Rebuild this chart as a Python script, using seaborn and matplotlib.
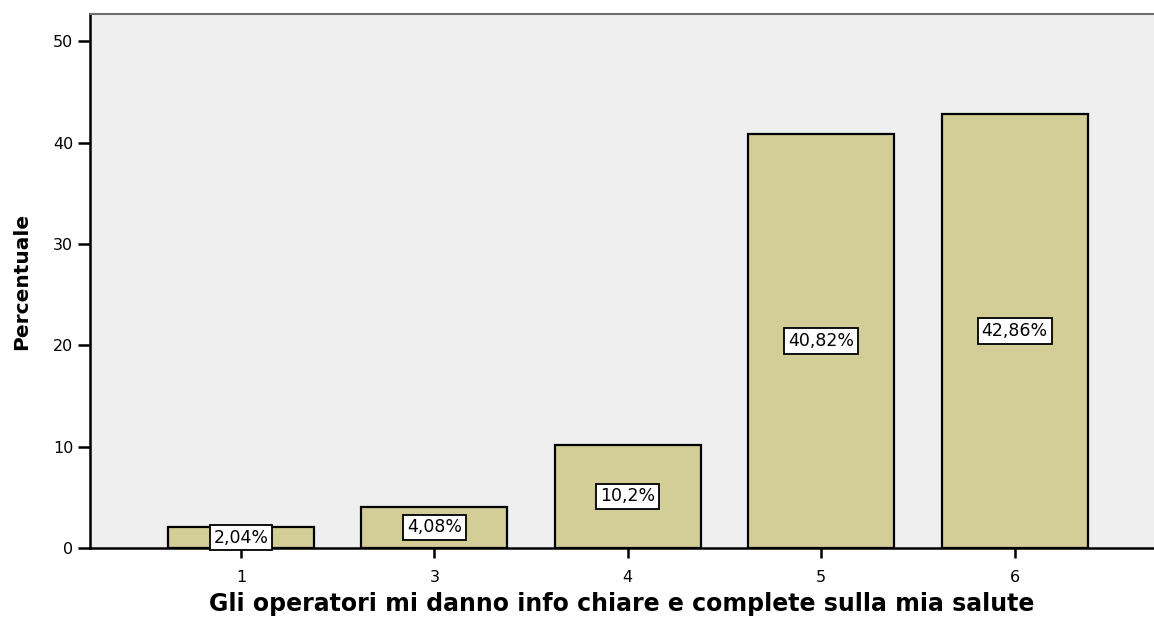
import pandas as pd
import seaborn as sns
import matplotlib.pyplot as plt

categories = ['1', '3', '4', '5', '6']
percentages = [2.04, 4.08, 10.2, 40.82, 42.86]
value_labels = ['2,04%', '4,08%', '10,2%', '40,82%', '42,86%']

data = pd.DataFrame({'Risposta': categories, 'Percentuale': percentages})

sns.set_style('white')
plt.rcParams['font.family'] = ['DejaVu Sans']
plt.rcParams['text.color'] = 'black'
plt.rcParams['axes.labelcolor'] = 'black'
plt.rcParams['xtick.color'] = 'black'
plt.rcParams['ytick.color'] = 'black'

fig = plt.figure(figsize=(11.54, 6.19), dpi=100)
ax = fig.add_axes([0.078, 0.1147, 0.922, 0.8626])
ax.set_facecolor('#efefef')

sns.barplot(x='Risposta', y='Percentuale', data=data, color='#d3ce98',
            width=0.755, edgecolor='black', linewidth=1.6, saturation=1, ax=ax)

# labels in white boxes at mid-height of each bar
for i, (val, lab) in enumerate(zip(percentages, value_labels)):
    ax.text(i, val / 2, lab, ha='center', va='center', fontsize=12.5,
            zorder=5, clip_on=False,
            bbox=dict(boxstyle='square,pad=0.22', facecolor='white',
                      edgecolor='black', linewidth=1.3))

ax.set_ylim(0, 52.7)
ax.set_xlim(-0.78, 4.72)
ax.set_yticks([0, 10, 20, 30, 40, 50])

ax.spines['left'].set_color('black')
ax.spines['left'].set_linewidth(1.8)
ax.spines['bottom'].set_color('black')
ax.spines['bottom'].set_linewidth(1.8)
ax.spines['top'].set_color('#6e6e6e')
ax.spines['top'].set_linewidth(1.5)
ax.spines['right'].set_visible(False)

ax.tick_params(axis='y', direction='out', length=8.5, width=1.8,
               labelsize=11.5, pad=3.5, left=True)
ax.tick_params(axis='x', direction='out', length=7, width=1.8,
               labelsize=11.5, pad=9, bottom=True)

ax.set_xlabel('Gli operatori mi danno info chiare e complete sulla mia salute',
              fontsize=17, fontweight='bold', labelpad=5)
ax.set_ylabel('Percentuale', fontsize=14.5, fontweight='bold', labelpad=16)

plt.savefig('out.png', dpi=100)
plt.close()
